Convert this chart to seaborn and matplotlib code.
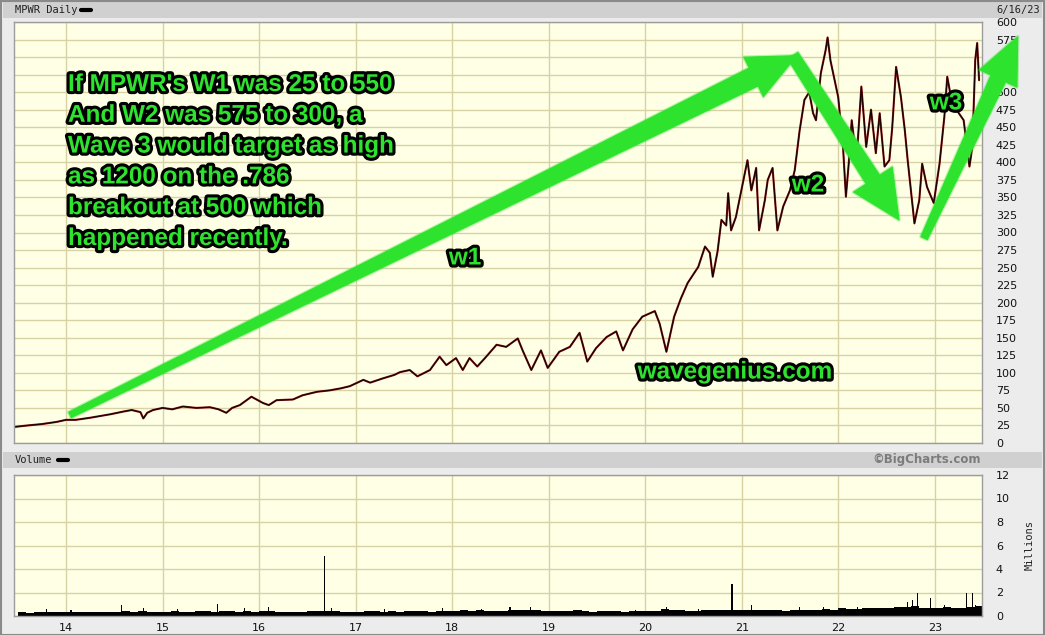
import numpy as np
import pandas as pd
import seaborn as sns
import matplotlib.pyplot as plt
import matplotlib.patheffects as pe
from matplotlib.patches import Polygon, Rectangle
from matplotlib.lines import Line2D
from matplotlib.transforms import IdentityTransform

# ---- data (x = fractional year) ----
price_dates = [
    2013.47, 2013.6, 2013.75, 2013.9, 2014.0, 2014.1, 2014.25, 2014.46, 2014.6, 2014.68,
    2014.77, 2014.8, 2014.84, 2014.9, 2015.0, 2015.1, 2015.21, 2015.35, 2015.49, 2015.58,
    2015.66, 2015.72, 2015.8, 2015.92, 2016.04, 2016.1, 2016.18, 2016.35, 2016.45, 2016.6,
    2016.73, 2016.85, 2016.94, 2017.08, 2017.15, 2017.28, 2017.4, 2017.46, 2017.56, 2017.64,
    2017.77, 2017.87, 2017.94, 2018.04, 2018.11, 2018.18, 2018.26, 2018.34, 2018.46, 2018.56,
    2018.68, 2018.73, 2018.82, 2018.92, 2018.99, 2019.11, 2019.22, 2019.32, 2019.35, 2019.4,
    2019.49, 2019.6, 2019.7, 2019.77, 2019.87, 2019.97, 2020.1, 2020.15, 2020.22, 2020.3,
    2020.37, 2020.44, 2020.55, 2020.62, 2020.67, 2020.7, 2020.75, 2020.79, 2020.84, 2020.86,
    2020.89, 2020.94, 2020.99, 2021.06, 2021.1, 2021.15, 2021.18, 2021.24, 2021.27, 2021.32,
    2021.37, 2021.43, 2021.5, 2021.55, 2021.6, 2021.65, 2021.7, 2021.74, 2021.77, 2021.82,
    2021.87, 2021.89, 2021.92, 2021.94, 2022.0, 2022.05, 2022.08, 2022.11, 2022.14, 2022.19,
    2022.24, 2022.29, 2022.34, 2022.39, 2022.43, 2022.48, 2022.53, 2022.56, 2022.6, 2022.65,
    2022.69, 2022.72, 2022.75, 2022.79, 2022.84, 2022.87, 2022.92, 2022.99, 2023.05, 2023.1,
    2023.13, 2023.18, 2023.25, 2023.3, 2023.36, 2023.39, 2023.42, 2023.44, 2023.46,
]
price_close = [
    23, 25, 27, 30, 33, 33, 36, 41, 45, 47,
    44, 35, 43, 47, 50, 48, 52, 50, 51, 48,
    43, 50, 54, 66, 57, 54, 61, 62, 68, 73,
    75, 78, 81, 90, 86, 92, 97, 101, 104, 95,
    104, 123, 111, 121, 104, 121, 109, 121, 140, 137,
    149, 132, 104, 132, 107, 130, 137, 157, 142, 116,
    135, 151, 159, 132, 162, 180, 188, 170, 130, 180,
    206, 228, 251, 280, 271, 237, 273, 318, 310, 356,
    303, 322, 356, 403, 360, 392, 303, 346, 375, 392,
    303, 337, 360, 389, 445, 489, 500, 470, 460, 527,
    560, 578, 545, 532, 493, 422, 351, 400, 460, 403,
    508, 422, 475, 413, 470, 394, 403, 450, 536, 493,
    446, 403, 365, 313, 346, 398, 365, 342, 398, 465,
    522, 484, 470, 460, 394, 422, 546, 570, 517,
]

# monthly base volume in millions, Jul 2013 .. Jun 2023
vol_base = [
    0.30, 0.28, 0.32, 0.30, 0.33, 0.30,
    0.32, 0.35, 0.30, 0.33, 0.35, 0.38, 0.36, 0.40, 0.35, 0.45, 0.38, 0.33,
    0.35, 0.40, 0.38, 0.36, 0.42, 0.40, 0.38, 0.45, 0.40, 0.38, 0.42, 0.35,
    0.45, 0.40, 0.38, 0.35, 0.38, 0.36, 0.40, 0.42, 0.45, 0.40, 0.38, 0.36,
    0.38, 0.42, 0.40, 0.36, 0.40, 0.38, 0.42, 0.45, 0.40, 0.38, 0.42, 0.40,
    0.45, 0.48, 0.42, 0.50, 0.42, 0.40, 0.45, 0.50, 0.48, 0.55, 0.50, 0.42,
    0.45, 0.42, 0.40, 0.48, 0.45, 0.38, 0.40, 0.42, 0.40, 0.38, 0.42, 0.40,
    0.42, 0.45, 0.60, 0.52, 0.48, 0.42, 0.45, 0.48, 0.50, 0.52, 0.55, 0.50,
    0.55, 0.50, 0.55, 0.48, 0.50, 0.45, 0.48, 0.52, 0.50, 0.55, 0.60, 0.55,
    0.65, 0.60, 0.62, 0.70, 0.65, 0.68, 0.70, 0.75, 0.80, 0.85, 0.70, 0.65,
    0.70, 0.75, 0.68, 0.72, 0.80, 0.85,
]
vol_months = 2013.5 + np.arange(len(vol_base)) / 12

spike_dates = [2013.8, 2014.05, 2014.57, 2014.8, 2015.15, 2015.57, 2015.85, 2016.1,
               2016.68, 2016.75, 2017.3, 2017.9, 2018.3, 2018.6, 2018.81, 2019.34,
               2019.9, 2020.22, 2020.55, 2020.9, 2021.1, 2021.6, 2021.85, 2022.2,
               2022.72, 2022.77, 2022.82, 2022.96, 2023.1, 2023.33, 2023.39, 2023.42]
spike_vols = [0.6, 0.55, 0.9, 0.65, 0.6, 1.05, 0.7, 0.77,
              5.1, 0.7, 0.6, 0.65, 0.6, 0.75, 0.8, 0.55,
              0.55, 0.8, 0.6, 2.7, 0.9, 0.75, 0.8, 0.8,
              1.2, 1.4, 2.0, 1.5, 0.9, 2.0, 2.0, 0.9]

year_ticks = list(range(2014, 2024))
year_labels = [str(y)[2:] for y in year_ticks]
price_ticks = list(range(0, 601, 25))
vol_ticks = list(range(0, 13, 2))

note_lines = [
    "If MPWR's W1 was 25 to 550",
    "And W2 was 575 to 300, a",
    "Wave 3 would target as high",
    "as 1200 on the .786",
    "breakout at 500 which",
    "happened recently.",
]

# ---- figure ----
sns.set_style("white")
plt.rcParams["font.family"] = ["DejaVu Sans"]

W, H = 1045, 635
BG = "#ECECEC"
PLOT_BG = "#FFFFE6"
GRID = "#D6D2A4"
GREEN = "#2EE32E"

fig = plt.figure(figsize=(W / 100, H / 100), dpi=100, facecolor=BG)


def box(x0, y0, x1, y1):
    return [x0 / W, 1 - y1 / H, (x1 - x0) / W, (y1 - y0) / H]


# header strips
for y0, y1 in [(2, 18), (452, 468)]:
    fig.add_artist(Rectangle((3 / W, 1 - y1 / H), (W - 6) / W, (y1 - y0) / H,
                             transform=fig.transFigure, fc="#D0D0D0", ec="none"))
fig.add_artist(Rectangle((0.5 / W, 0.5 / H), (W - 1.5) / W, (H - 1.5) / H,
                         transform=fig.transFigure, fc="none", ec="#8A8A8A", lw=1.5))

mono = "DejaVu Sans Mono"
fig.text(15 / W, 1 - 10 / H, "MPWR Daily", family=mono, fontsize=7.5, va="center", color="#222")
fig.add_artist(Line2D([81 / W, 91 / W], [1 - 10 / H] * 2, color="black", lw=3,
                      transform=fig.transFigure))
fig.text(1040 / W, 1 - 10 / H, "6/16/23", family=mono, fontsize=7.5, va="center",
         ha="right", color="#222")
fig.text(15 / W, 1 - 460 / H, "Volume", family=mono, fontsize=7.5, va="center", color="#222")
fig.add_artist(Line2D([58 / W, 68 / W], [1 - 460 / H] * 2, color="black", lw=3,
                      transform=fig.transFigure))
fig.text(981 / W, 1 - 460 / H, "\u00a9BigCharts.com", fontsize=8.5, weight="bold",
         va="center", ha="right", color="#7C7C7C")
fig.text(1030 / W, 1 - 545 / H, "Millions", family=mono, fontsize=7.5, rotation=90,
         va="center", ha="center", color="#222")

ax = fig.add_axes(box(14, 22, 982, 443))
axv = fig.add_axes(box(14, 475, 982, 616))

x_lo, x_hi = 2013.46, 2023.49
for a in (ax, axv):
    a.set_facecolor(PLOT_BG)
    a.set_xlim(x_lo, x_hi)
    a.set_xticks(year_ticks)
    a.grid(True, color=GRID, lw=1)
    a.set_axisbelow(True)
    a.yaxis.tick_right()
    a.tick_params(axis="both", length=0, labelsize=8, colors="#111")
    a.tick_params(axis="y", pad=10)
    for s in a.spines.values():
        s.set_color("#9C9C9C")
        s.set_linewidth(1)

# price
sns.lineplot(x=price_dates, y=price_close, ax=ax, color="#8A1818", lw=1.5,
             estimator=None, sort=False)
sns.lineplot(x=price_dates, y=price_close, ax=ax, color="#100000", lw=0.8,
             estimator=None, sort=False)
ax.set_ylim(0, 600)
ax.set_yticks(price_ticks)
ax.set_xticklabels([])
ax.set_xlabel("")
ax.set_ylabel("")

# volume
axv.bar(vol_months, vol_base, width=1 / 12, align="edge", color="black", lw=0)
axv.bar(spike_dates, spike_vols, width=0.012, color="black", lw=0)
axv.set_ylim(0, 12)
axv.set_yticks(vol_ticks)
axv.set_xticklabels(year_labels)
axv.tick_params(axis="x", pad=5)

# ---- annotations ----
def arrow(p0, p1, w0, w1, hw, hl):
    a = ax.transData.transform(p0)
    b = ax.transData.transform(p1)
    d = b - a
    u = d / np.hypot(*d)
    n = np.array([-u[1], u[0]])
    base = b - u * hl
    pts = [a + n * w0 / 2, base + n * w1 / 2, base + n * hw / 2, b,
           base - n * hw / 2, base - n * w1 / 2, a - n * w0 / 2]
    fig.add_artist(Polygon(pts, closed=True, transform=IdentityTransform(),
                           fc=GREEN, ec=GREEN, lw=2.5, alpha=0.35, joinstyle="round"))
    fig.add_artist(Polygon(pts, closed=True, transform=IdentityTransform(),
                           fc=GREEN, ec=GREEN, lw=0.8, joinstyle="round"))


arrow((2014.04, 40), (2021.57, 552), 6, 20, 44, 48)
arrow((2021.53, 552), (2022.63, 318), 12, 16, 46, 48)
arrow((2022.89, 292), (2023.86, 579), 7, 16, 41, 46)

outline = [pe.withStroke(linewidth=4.5, foreground="black")]
txt = dict(family="Liberation Sans", weight="bold", fontsize=17.5, color=GREEN,
           path_effects=outline, zorder=10)

for i, line in enumerate(note_lines):
    yb = 91 + 30.8 * i
    fig.text(68 / W, 1 - yb / H, line, va="baseline", ha="left", **txt)

fig.text(465 / W, 1 - 258 / H, "w1", va="center", ha="center", **txt)
fig.text(808 / W, 1 - 185 / H, "w2", va="center", ha="center", **txt)
fig.text(946 / W, 1 - 103 / H, "w3", va="center", ha="center", **txt)
fig.text(735 / W, 1 - 372 / H, "wavegenius.com", va="center", ha="center", **txt)

fig.savefig("out.png", dpi=100, facecolor=BG)
